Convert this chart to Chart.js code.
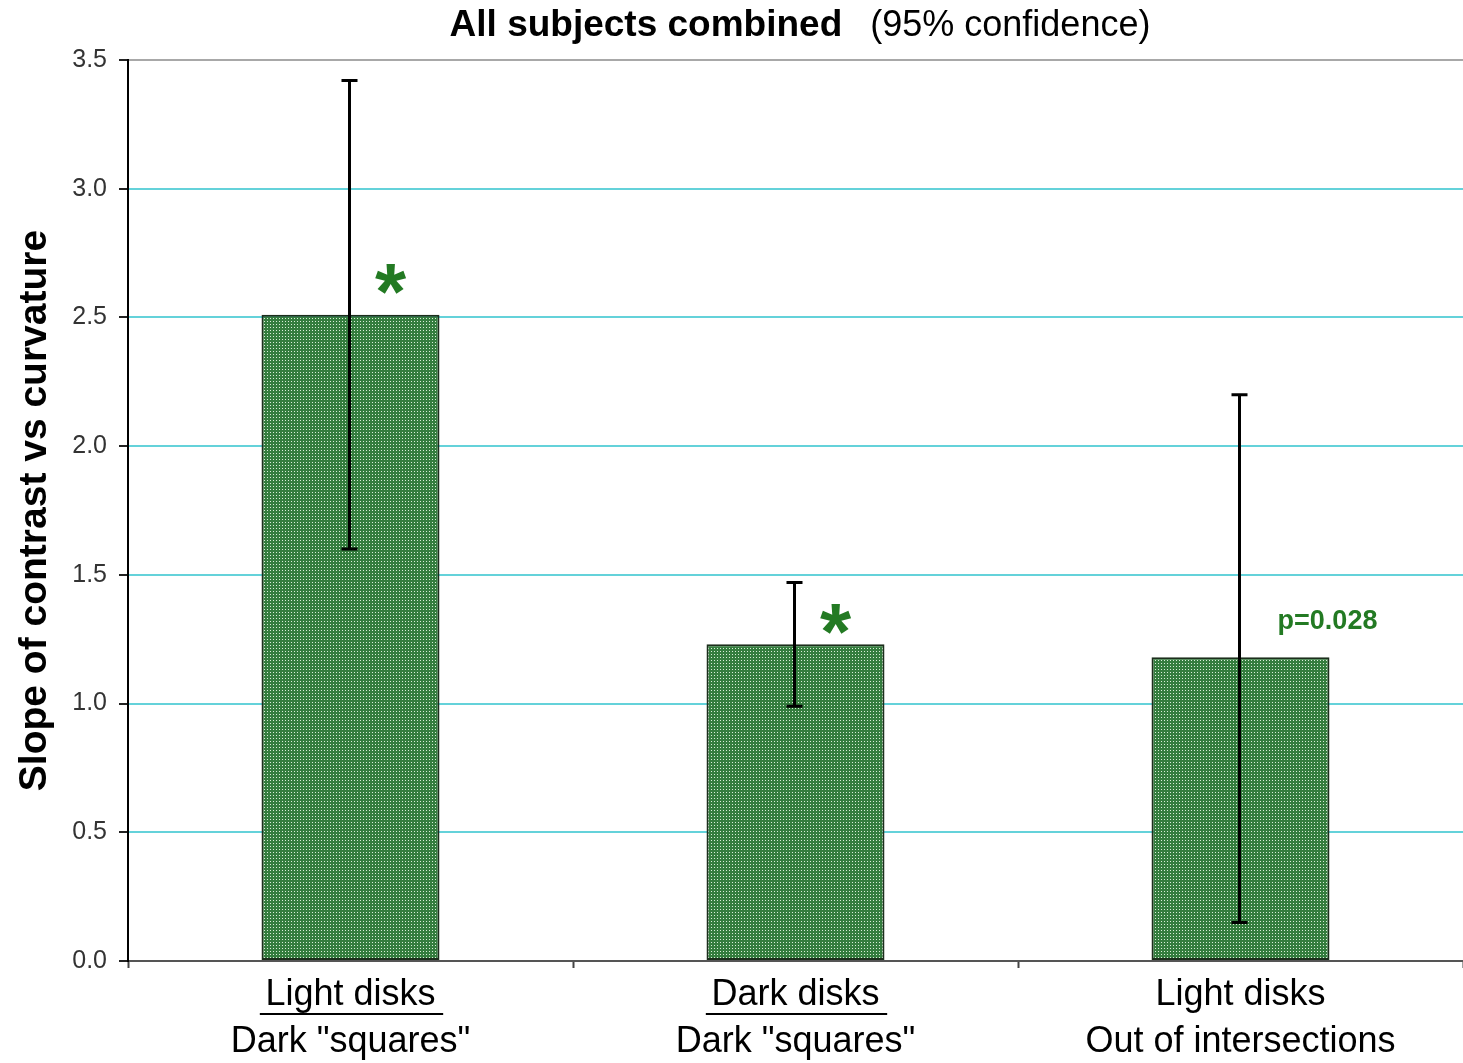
<!DOCTYPE html>
<html>
<head>
<meta charset="utf-8">
<script src="https://cdn.jsdelivr.net/npm/chart.js@4.4.1/dist/chart.umd.min.js"></script>
<style>
  body { margin: 0; background: #fff; overflow: hidden; }
  #wrap { width: 1463px; height: 1063px; }
</style>
</head>
<body>
<div id="wrap"><canvas id="slopeChart" width="1463" height="1063"></canvas></div>
<script>
// Chart data
const categories = [
    ['Light disks', 'Dark "squares"'],
    ['Dark disks', 'Dark "squares"'],
    ['Light disks', 'Out of intersections']
];
const underlined = [true, true, false];
const slopeValues = [2.51, 1.23, 1.18];
const ciLow = [1.60, 0.99, 0.15];
const ciHigh = [3.42, 1.47, 2.20];
const markText = ['*', '*', 'p=0.028'];
const markValues = [2.68, 1.36, 1.32];
const yTicks = [0, 0.5, 1.0, 1.5, 2.0, 2.5, 3.0, 3.5];

const FONT = "'Liberation Sans', Arial, sans-serif";
const GREEN = '#237a23';

// dotted green fill like the old excel bars
function makePattern() {
    const c = document.createElement('canvas');
    c.width = 3;
    c.height = 3;
    const p = c.getContext('2d');
    p.fillStyle = '#347d3e';
    p.fillRect(0, 0, 3, 3);
    p.fillStyle = '#d8eed8';
    p.fillRect(0, 0, 1, 1);
    return p.createPattern(c, 'repeat');
}

const extrasPlugin = {
    id: 'extras',
    afterDatasetsDraw(chart) {
        const ctx = chart.ctx;
        const x = chart.scales.x;
        const y = chart.scales.y;
        const meta = chart.getDatasetMeta(0);

        // error bars
        ctx.save();
        ctx.strokeStyle = '#000';
        ctx.lineWidth = 3;
        meta.data.forEach((bar, i) => {
            const bx = bar.x - 1;
            const yl = y.getPixelForValue(ciLow[i]);
            const yh = y.getPixelForValue(ciHigh[i]);
            ctx.beginPath();
            ctx.moveTo(bx, yl);
            ctx.lineTo(bx, yh);
            ctx.moveTo(bx - 8, yl);
            ctx.lineTo(bx + 8, yl);
            ctx.moveTo(bx - 8, yh);
            ctx.lineTo(bx + 8, yh);
            ctx.stroke();
        });

        // significance marks
        ctx.fillStyle = GREEN;
        ctx.textAlign = 'center';
        meta.data.forEach((bar, i) => {
            const my = y.getPixelForValue(markValues[i]);
            if (markText[i] === '*') {
                const size = 80;
                ctx.font = 'bold ' + size + 'px ' + FONT;
                ctx.textBaseline = 'alphabetic';
                ctx.fillText('*', bar.x + 40, my + size * 0.6);
            } else {
                ctx.font = 'bold 27px ' + FONT;
                ctx.textBaseline = 'middle';
                ctx.fillText(markText[i], bar.x + 87, my);
            }
        });

        // underline first line of some category labels
        ctx.strokeStyle = '#000';
        ctx.lineWidth = 2;
        ctx.font = '35px ' + FONT;
        categories.forEach((lines, i) => {
            if (!underlined[i]) return;
            const cx = x.getPixelForValue(i) + 1;
            const w = ctx.measureText(lines[0]).width + 18;
            const uy = x.top + 53;
            ctx.beginPath();
            ctx.moveTo(cx - w / 2, uy);
            ctx.lineTo(cx + w / 2, uy);
            ctx.stroke();
        });
        ctx.restore();
    },
    afterDraw(chart) {
        // title: bold part + plain part
        const ctx = chart.ctx;
        ctx.save();
        ctx.fillStyle = '#000';
        ctx.textBaseline = 'middle';
        ctx.textAlign = 'left';
        const boldTxt = 'All subjects combined';
        const plainTxt = '(95% confidence)';
        ctx.font = 'bold 37px ' + FONT;
        const w1 = ctx.measureText(boldTxt).width;
        ctx.font = '36px ' + FONT;
        const w2 = ctx.measureText(plainTxt).width;
        const gap = 28;
        const start = 800 - (w1 + gap + w2) / 2;
        ctx.font = 'bold 37px ' + FONT;
        ctx.fillText(boldTxt, start, 26);
        ctx.font = '36px ' + FONT;
        ctx.fillText(plainTxt, start + w1 + gap, 26);
        ctx.restore();
    }
};

const ctx = document.getElementById('slopeChart').getContext('2d');
const slopeChart = new Chart(ctx, {
    type: 'bar',
    data: {
        labels: categories,
        datasets: [{
            data: slopeValues,
            backgroundColor: makePattern(),
            borderColor: '#1c2e1c',
            borderWidth: 2,
            borderSkipped: false,
            categoryPercentage: 1.0,
            barPercentage: 0.4
        }]
    },
    options: {
        responsive: false,
        animation: false,
        layout: { padding: { top: 60, right: -5, left: 0, bottom: 0 } },
        plugins: {
            legend: { display: false },
            tooltip: { enabled: false }
        },
        scales: {
            x: {
                afterFit: (s) => { s.height = 102; },
                grid: {
                    drawOnChartArea: false,
                    tickLength: 7,
                    tickColor: '#444',
                    tickWidth: 2
                },
                border: { color: '#555', width: 2 },
                ticks: {
                    color: '#000',
                    padding: 3,
                    font: { family: FONT, size: 36, lineHeight: 1.32 },
                    maxRotation: 0
                }
            },
            y: {
                min: 0,
                max: 3.5,
                afterFit: (s) => { s.width = 128; },
                afterBuildTicks: (s) => { s.ticks = yTicks.map(v => ({ value: v })); },
                grid: {
                    color: (c) => {
                        if (c.tick.value === 0) return 'rgba(0,0,0,0)';
                        if (c.tick.value === 3.5) return '#a8a8a8';
                        return '#64d2da';
                    },
                    lineWidth: 2,
                    tickLength: 9,
                    tickColor: '#222',
                    tickWidth: 2
                },
                border: { color: '#000', width: 2 },
                ticks: {
                    color: '#333',
                    padding: 12,
                    font: { family: FONT, size: 25 },
                    callback: (v) => v.toFixed(1)
                },
                title: {
                    display: true,
                    text: 'Slope of contrast vs curvature',
                    color: '#000',
                    padding: { top: 12, bottom: 0 },
                    font: { family: FONT, size: 39, weight: 'bold' }
                }
            }
        }
    },
    plugins: [extrasPlugin]
});
</script>
</body>
</html>
